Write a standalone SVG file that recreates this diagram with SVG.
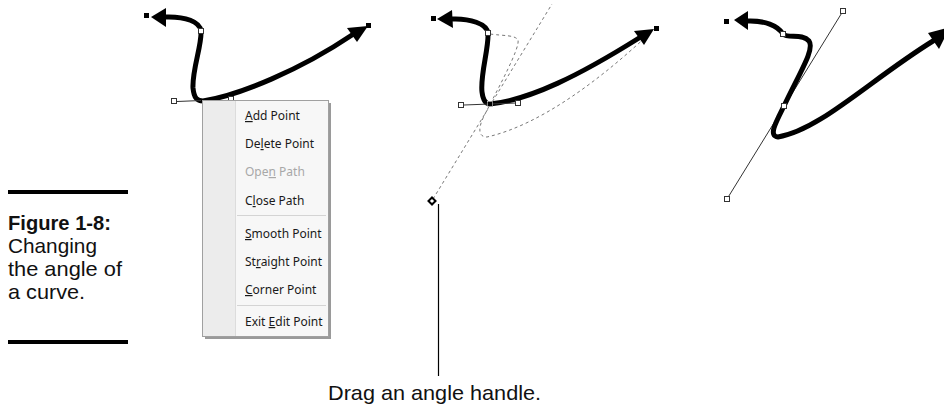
<svg xmlns="http://www.w3.org/2000/svg" width="944" height="406" viewBox="0 0 944 406">
<style>
.cv{fill:none;stroke:#000;stroke-width:5;stroke-linecap:round;stroke-linejoin:round}
.ah{fill:#000}
.ep{fill:#000}
.hd{fill:#fff;stroke:#333;stroke-width:1}
.hl{stroke:#333;stroke-width:1;fill:none}
.dash{fill:none;stroke:#777;stroke-width:1;stroke-dasharray:3 3}
.mi{font-family:"Segoe UI","Noto Sans","Open Sans",sans-serif;font-size:12px;fill:#1a1a1a}
.dis{fill:#a8a8a8}
.cap{font-family:"Liberation Sans",Arial,sans-serif;font-size:20px;fill:#111}
.u{text-decoration:underline}
</style>
<rect width="944" height="406" fill="#fff"/>

<g id="curve-left">
<path class="cv" d="M164,17 C186,16 200,22 201,31 C202,45 192,70 193,88 C194,98 197,101 203,101 C240,95 300,70 352,35"/>
<polygon class="ah" points="151,17 166,8 166,27"/>
<polygon class="ah" points="347,28 368,26 357,42"/>
<rect class="ep" x="144" y="13" width="5" height="5"/>
<rect class="ep" x="366" y="23" width="5" height="5"/>
<rect class="hd" x="198.5" y="28.5" width="5" height="5"/>
<line class="hl" x1="177" y1="101.5" x2="201" y2="100.5"/>
<rect class="hd" x="171.5" y="98.5" width="5" height="5"/>
<rect class="hd" x="228.5" y="96.5" width="5" height="5"/>
</g>

<g id="context-menu">
<rect x="205" y="103" width="126" height="236" fill="#9a9a9a"/>
<rect x="202.5" y="100.5" width="126" height="236" fill="#f7f7f7" stroke="#a0a0a0"/>
<rect x="203" y="101" width="32" height="235" fill="#ececec"/>
<line x1="235.5" y1="101" x2="235.5" y2="336" stroke="#dcdcdc"/>
<line x1="237" y1="215.5" x2="326" y2="215.5" stroke="#d4d4d4"/>
<line x1="237" y1="305.5" x2="326" y2="305.5" stroke="#d4d4d4"/>
<text class="mi" x="245" y="120"><tspan class="u">A</tspan>dd Point</text>
<text class="mi" x="245" y="148">De<tspan class="u">l</tspan>ete Point</text>
<text class="mi dis" x="245" y="176">Ope<tspan class="u">n</tspan> Path</text>
<text class="mi" x="245" y="205">C<tspan class="u">l</tspan>ose Path</text>
<text class="mi" x="245" y="238"><tspan class="u">S</tspan>mooth Point</text>
<text class="mi" x="245" y="266">St<tspan class="u">r</tspan>aight Point</text>
<text class="mi" x="245" y="294"><tspan class="u">C</tspan>orner Point</text>
<text class="mi" x="245" y="326">Exit <tspan class="u">E</tspan>dit Point</text>
</g>

<g id="curve-middle">
<line class="dash" x1="433" y1="199" x2="552" y2="4"/>
<path class="dash" d="M490,34 C505,36 515,35 518,40 C520,48 500,85 484,116 C478,128 478,137 487,137 C540,125 600,80 650,33"/>
<path class="cv" d="M451,19 C470,18 487,24 488,33 C489,48 480,75 482,92 C483,100 486,104 490,104 C530,100 580,75 639,38"/>
<polygon class="ah" points="437,19 452,10 453,28"/>
<polygon class="ah" points="634,31 654,29 644,45"/>
<rect class="ep" x="431" y="16" width="5" height="5"/>
<rect class="ep" x="654" y="26" width="5" height="5"/>
<rect class="hd" x="485.5" y="30.5" width="5" height="5"/>
<line class="hl" x1="464" y1="105" x2="516" y2="103"/>
<rect class="hd" x="458.5" y="102.5" width="5" height="5"/>
<rect class="hd" x="515.5" y="100.5" width="5" height="5"/>
<rect x="487.5" y="101.5" width="5" height="5" fill="#000" stroke="#fff" stroke-width="0.5"/>
<rect x="429.5" y="198.5" width="5" height="5" transform="rotate(45 432 201)" fill="#fff" stroke="#000" stroke-width="2"/>
</g>

<g id="curve-right">
<line class="hl" x1="727" y1="199" x2="843" y2="11"/>
<path class="cv" d="M746,21 C765,20 778,26 783,34 C788,39 802,33 809,41 C815,49 800,72 784,106 C776,122 768,136 778,137 C820,130 870,80 933,41"/>
<polygon class="ah" points="734,20 748,11 748,30"/>
<polygon class="ah" points="928,33 950,27 939,49"/>
<rect class="ep" x="724" y="19" width="5" height="5"/>
<rect class="hd" x="780.5" y="31.5" width="5" height="5"/>
<rect class="hd" x="781.5" y="103.5" width="5" height="5"/>
<rect class="hd" x="724.5" y="196.5" width="5" height="5"/>
<rect class="hd" x="840.5" y="8.5" width="5" height="5"/>
</g>

<g id="caption">
<rect x="8" y="190" width="120" height="4" fill="#000"/>
<g transform="translate(8 0) scale(0.82 1)">
<text class="cap" x="0" y="230" font-weight="bold" textLength="125.6" lengthAdjust="spacingAndGlyphs">Figure 1-8:</text>
<text class="cap" x="0" y="253" textLength="108.5" lengthAdjust="spacingAndGlyphs">Changing</text>
<text class="cap" x="0" y="276" textLength="139" lengthAdjust="spacingAndGlyphs">the angle of</text>
<text class="cap" x="0" y="299" textLength="94" lengthAdjust="spacingAndGlyphs">a curve.</text>
</g>
<rect x="8" y="340" width="120" height="4" fill="#000"/>
</g>

<g id="callout">
<line x1="438.5" y1="204" x2="438.5" y2="376" stroke="#000" stroke-width="1.2"/>
<g transform="translate(328 0) scale(0.82 1)">
<text class="cap" x="0" y="400" textLength="259.8" lengthAdjust="spacingAndGlyphs">Drag an angle handle.</text>
</g>
</g>
</svg>
